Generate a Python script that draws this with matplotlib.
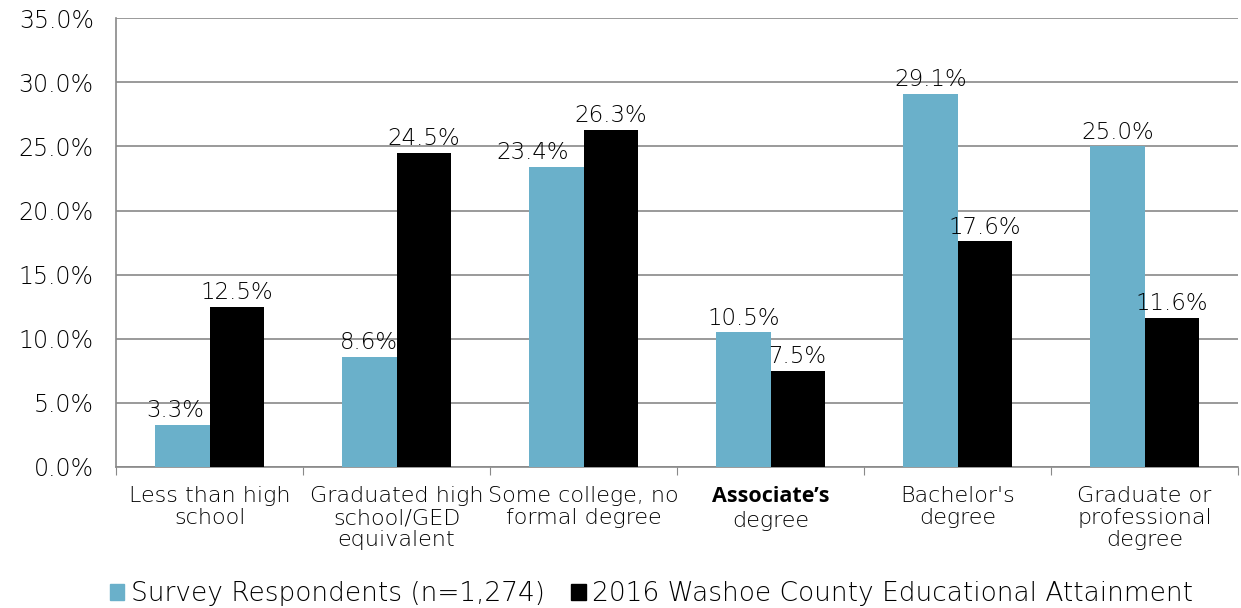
import numpy as np
import matplotlib.pyplot as plt
from matplotlib.patches import Patch

categories = ['Less than high\nschool', 'Graduated high\nschool/GED\nequivalent',
              'Some college, no\nformal degree', "Associate\u2019s\ndegree",
              "Bachelor's\ndegree", 'Graduate or\nprofessional\ndegree']
survey = [3.3, 8.6, 23.4, 10.5, 29.1, 25.0]
washoe = [12.5, 24.5, 26.3, 7.5, 17.6, 11.6]
series_names = ['Survey Respondents (n=1,274)',
                '2016 Washoe County Educational Attainment']
yticks = np.arange(0, 36, 5)

blue = '#6AB0CA'
grid = '#898989'
txt = '#000000'
font = 'DejaVu Sans'

fig = plt.figure(figsize=(12.41, 6.08), dpi=100)
ax = fig.add_axes([0.0935, 0.232, 0.9041, 0.738])

x = np.arange(len(categories))
w = 0.29
ax.bar(x - w / 2, survey, w, color=blue, zorder=3)
ax.bar(x + w / 2, washoe, w, color='black', zorder=3)

ax.set_xlim(-0.5, len(categories) - 0.5)
ax.set_ylim(0, 35)
ax.set_yticks(yticks)
ax.set_yticklabels(['%.1f%%' % v for v in yticks], fontsize=17, family=font,
                   fontweight='light', color=txt)
ax.yaxis.grid(True, color=grid, linewidth=1.2, zorder=0)
ax.tick_params(axis='y', length=0, pad=16)

ax.set_xticks(np.arange(len(categories) + 1) - 0.5)
ax.set_xticklabels([])
ax.tick_params(axis='x', length=6, color=grid, direction='out')
for i, lab in enumerate(categories):
    if i == 3:
        first, rest = lab.split('\n', 1)
        ax.text(i, -1.5, first, ha='center', va='top', fontsize=15.5,
                fontweight='bold', family='Open Sans', color=txt)
        ax.text(i, -3.4, rest, ha='center', va='top', fontsize=16,
                family=font, fontweight='light', color=txt)
    else:
        ax.text(i, -1.5, lab, ha='center', va='top', fontsize=16,
                family=font, fontweight='light', color=txt, linespacing=1.12)

for s in ['top', 'right']:
    ax.spines[s].set_visible(False)
for s in ['left', 'bottom']:
    ax.spines[s].set_color(grid)
    ax.spines[s].set_linewidth(1.2)

dx = {0: -5, 2: -17}
for i, v in enumerate(survey):
    ax.annotate('%.1f%%' % v, (x[i] - w / 2, v), xytext=(dx.get(i, 0), 2),
                textcoords='offset points', ha='center', va='bottom',
                fontsize=16.5, family=font, fontweight='light', color=txt,
                zorder=4)
for i, v in enumerate(washoe):
    ax.annotate('%.1f%%' % v, (x[i] + w / 2, v), xytext=(0, 2),
                textcoords='offset points', ha='center', va='bottom',
                fontsize=16.5, family=font, fontweight='light', color=txt,
                zorder=4)

handles = [Patch(color=blue), Patch(color='black')]
fig.legend(handles, series_names, loc='center', bbox_to_anchor=(0.525, 0.024),
           ncol=2, frameon=False,
           prop={'family': font, 'size': 19, 'weight': 'light'},
           handlelength=0.55, handleheight=0.55, handletextpad=0.25,
           columnspacing=1.0)

fig.savefig('out.png', dpi=100)
